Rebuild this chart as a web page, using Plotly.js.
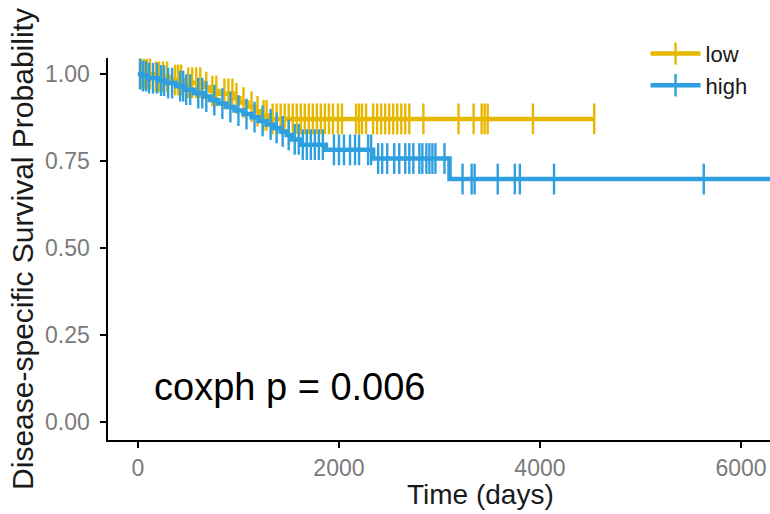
<!DOCTYPE html>
<html>
<head>
<meta charset="utf-8">
<script src="https://cdn.plot.ly/plotly-3.0.1.min.js"></script>
<style>
  html, body { margin: 0; padding: 0; background: #fff; overflow: hidden; }
  #chart { width: 770px; height: 514px; }
</style>
</head>
<body>
<div id="chart"></div>
<script>
// ---- Data ----
const groupNames = ["low", "high"];
const groupColors = ["#E7B800", "#2E9FDF"];

// low group: step times (days) and survival after each step
const lowStepTimes = [0, 150, 330, 450, 650, 720, 800, 960, 1010, 1090, 1170, 1210, 1310];
const lowStepSurv  = [1.0, 0.992, 0.983, 0.975, 0.962, 0.951, 0.943, 0.930, 0.918, 0.906, 0.893, 0.881, 0.871];
const lowEndTime = 4540;
const lowCensorTimes = [30, 60, 90, 120, 180, 210, 250, 290, 370, 400, 430, 500, 540, 580, 620, 680, 740, 780,
  860, 900, 940, 980, 1050, 1130, 1190, 1250, 1280, 1340, 1380, 1420, 1460, 1500, 1540, 1580, 1620, 1660,
  1700, 1740, 1780, 1820, 1860, 1900, 1940, 1990, 2030, 2170, 2200, 2230, 2270, 2340, 2380, 2420, 2460,
  2500, 2540, 2580, 2620, 2660, 2700, 2840, 3190, 3340, 3420, 3450, 3480, 3930, 4540];

// high group
const highStepTimes = [0, 40, 100, 200, 280, 380, 470, 560, 650, 720, 800, 880, 960, 1050, 1130, 1200, 1280,
  1350, 1420, 1480, 1530, 1620, 1870, 2340, 3100];
const highStepSurv  = [1.0, 0.994, 0.988, 0.981, 0.974, 0.965, 0.955, 0.945, 0.935, 0.925, 0.915, 0.905, 0.895,
  0.885, 0.876, 0.865, 0.855, 0.845, 0.835, 0.825, 0.812, 0.797, 0.782, 0.757, 0.698];
const highEndTime = 6350;
const highCensorTimes = [20, 50, 80, 110, 150, 190, 230, 260, 300, 340, 420, 450, 480, 520, 600, 640, 680, 760,
  840, 920, 1000, 1080, 1160, 1240, 1320, 1380, 1440, 1500, 1560, 1600, 1640, 1680, 1720, 1760, 1800, 1840,
  1950, 2000, 2050, 2110, 2160, 2200, 2290, 2320, 2390, 2430, 2480, 2550, 2600, 2660, 2700, 2740, 2800, 2830,
  2870, 2900, 2930, 2960, 3050, 3230, 3320, 3350, 3580, 3750, 3800, 4140, 5630];

const xTicks = [0, 2000, 4000, 6000];
const yTicks = [0, 0.25, 0.5, 0.75, 1.0];
const yTickText = ["0.00", "0.25", "0.50", "0.75", "1.00"];
const pValueText = "coxph p = 0.006";

// ---- Helpers ----
function survAt(stepT, stepS, t) {
  let s = stepS[0];
  for (let i = 0; i < stepT.length; i++) { if (stepT[i] <= t) s = stepS[i]; }
  return s;
}
function curveTrace(stepT, stepS, endT, color) {
  return {
    x: stepT.concat([endT]),
    y: stepS.concat([stepS[stepS.length - 1]]),
    mode: "lines", type: "scatter", showlegend: false, hoverinfo: "skip",
    line: { shape: "hv", color: color, width: 4.5 }
  };
}
function censorTrace(stepT, stepS, censT, color) {
  return {
    x: censT, y: censT.map(t => survAt(stepT, stepS, t)),
    mode: "markers", type: "scatter", showlegend: false, hoverinfo: "skip",
    marker: { symbol: "line-ns", size: 22, color: color, line: { color: color, width: 2.4 } }
  };
}
function legendTrace(name, color) {
  return {
    x: [null], y: [null], name: name, legendgroup: name, mode: "lines+markers", type: "scatter",
    line: { color: color, width: 4.5 },
    marker: { symbol: "line-ns", size: 22, color: color, line: { color: color, width: 2.4 } }
  };
}

const font = "Liberation Sans, Arial, Helvetica, sans-serif";
const data = [
  curveTrace(lowStepTimes, lowStepSurv, lowEndTime, groupColors[0]),
  censorTrace(lowStepTimes, lowStepSurv, lowCensorTimes, groupColors[0]),
  curveTrace(highStepTimes, highStepSurv, highEndTime, groupColors[1]),
  censorTrace(highStepTimes, highStepSurv, highCensorTimes, groupColors[1]),
  legendTrace(groupNames[0], groupColors[0]),
  legendTrace(groupNames[1], groupColors[1])
];

const layout = {
  width: 770, height: 514,
  margin: { l: 108, r: 0, t: 58, b: 74, pad: 0 },
  paper_bgcolor: "#ffffff", plot_bgcolor: "#ffffff",
  font: { family: font, color: "#1a1a1a" },
  showlegend: true,
  legend: {
    x: 0.812, y: 1.066, xanchor: "left", yanchor: "top",
    bgcolor: "rgba(0,0,0,0)", font: { size: 22, color: "#1a1a1a", family: font },
    itemwidth: 50, tracegroupgap: 6, traceorder: "normal"
  },
  xaxis: {
    range: [-298, 6289], showgrid: false, zeroline: false,
    showline: true, linecolor: "#000", linewidth: 1.6,
    ticks: "outside", ticklen: 6, tickwidth: 1.6, tickcolor: "#000",
    tickvals: xTicks, ticktext: xTicks.map(String), ticklabelstandoff: 1,
    tickfont: { size: 23, color: "#7a7a7a", family: font }
  },
  yaxis: {
    range: [-0.052, 1.046], showgrid: false, zeroline: false,
    showline: true, linecolor: "#000", linewidth: 1.6,
    ticks: "outside", ticklen: 6, tickwidth: 1.6, tickcolor: "#000",
    tickvals: yTicks, ticktext: yTickText, ticklabelstandoff: 6,
    tickfont: { size: 23, color: "#7a7a7a", family: font },
    title: { text: "Disease-specific Survival Probability", font: { size: 30, color: "#1a1a1a", family: font }, standoff: 2 }
  },
  annotations: [
    { text: pValueText, xref: "x", yref: "y", x: 140, y: 0.10, xanchor: "left", yanchor: "middle",
      showarrow: false, font: { size: 38, color: "#000", family: font } },
    { text: "Time (days)", xref: "paper", yref: "paper", x: 0.562, y: -0.143, xanchor: "center", yanchor: "middle",
      showarrow: false, font: { size: 28, color: "#1a1a1a", family: font } }
  ]
};

Plotly.newPlot("chart", data, layout, { displayModeBar: false, staticPlot: true });
</script>
</body>
</html>
